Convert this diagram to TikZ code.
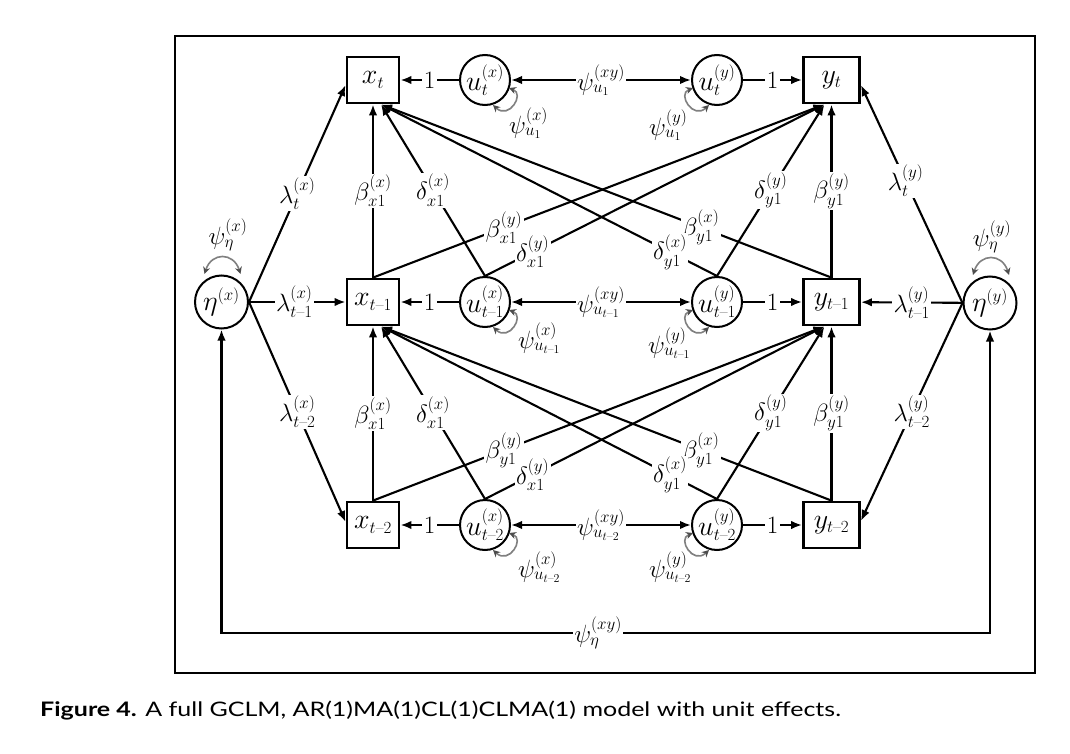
\RequirePackage{fix-cm}
\documentclass[tikz,border=0pt]{standalone}
\usepackage{amsmath}
\usepackage{fontspec}
\newfontfamily\capfont[FakeStretch=1.25]{Lato}
\usetikzlibrary{arrows.meta,calc}
\newcommand{\fsz}[1]{\fontsize{#1}{#1}\selectfont}
\DeclareMathSizes{25}{25}{17}{12}
\DeclareMathSizes{28}{28}{17}{12}
\newcommand{\tmo}{t\text{–}1}
\newcommand{\tmt}{t\text{–}2}
\begin{document}
\begin{tikzpicture}[x=1pt,y=-1pt,
  xbox/.style={draw, line width=2.8pt, minimum width=52pt, minimum height=46pt, inner sep=0pt, font=\fsz{28}},
  ybox/.style={xbox, minimum width=56pt},
  latc/.style={draw, circle, line width=2pt, minimum size=50pt, inner sep=-3pt, font=\fsz{28}},
  etac/.style={latc, minimum size=53pt},
  arr/.style={line width=2.1pt, -{Latex[length=11pt,width=8.5pt]}},
  darr/.style={line width=2.1pt, {Latex[length=11pt,width=8.5pt]}-{Latex[length=11pt,width=8.5pt]}},
  selfarc/.style={draw=gray, line width=1.6pt, {Stealth[length=7pt,width=7pt,color=black!70]}-{Stealth[length=7pt,width=7pt,color=black!70]}},
  elab/.style={fill=white, inner sep=1.5pt, font=\fsz{25}},
  plab/.style={inner sep=1pt, font=\fsz{25}}
]
\fill[white] (0,0) rectangle (1070,754);
\useasboundingbox (0,0) rectangle (1070,754);
\draw[line width=1.1pt] (175,36) rectangle (1035,673);

% nodes
\node[xbox] (xt) at (373,80) {$x_t$};
\node[latc] (uxt) at (485,80) {$u_t^{(x)}$};
\node[latc] (uyt) at (717,80) {$u_t^{(y)}$};
\node[ybox] (yt) at (831.5,80) {$y_t$};
\node[xbox] (xm) at (373,302) {$x_{\tmo}$};
\node[latc] (uxm) at (485,302) {$u_{\tmo}^{(x)}$};
\node[latc] (uym) at (717,302) {$u_{\tmo}^{(y)}$};
\node[ybox] (ym) at (831.5,302) {$y_{\tmo}$};
\node[xbox] (xb) at (373,525) {$x_{\tmt}$};
\node[latc] (uxb) at (485,525) {$u_{\tmt}^{(x)}$};
\node[latc] (uyb) at (717,525) {$u_{\tmt}^{(y)}$};
\node[ybox] (yb) at (831.5,525) {$y_{\tmt}$};
\node[etac] (etax) at (221.5,302) {$\eta^{(x)}$};
\node[etac] (etay) at (990,303) {$\eta^{(y)}$};
\coordinate (bly) at (0,633);

% horizontal row edges
\foreach \r in {t,m,b}{
  \draw[arr] (ux\r) -- coordinate (cone\r) (x\r);
  \draw[darr] (ux\r) -- coordinate (cxy\r) (uy\r);
  \draw[arr] (uy\r) -- coordinate (cony\r) (y\r);
}
% loadings
\draw[arr] (etax.east) -- coordinate[pos=0.5] (clxt) ($(xt.west)+(0,5)$);
\draw[arr] (etax) -- coordinate[pos=0.47] (clxm) (xm);
\draw[arr] (etax.east) -- coordinate[pos=0.5] (clxb) ($(xb.west)+(0,-3)$);
\draw[arr] (etay.west) -- coordinate[pos=0.56] (clyt) ($(yt.east)+(0,5)$);
\draw[arr] (etay) -- coordinate[pos=0.5] (clym) (ym);
\draw[arr] (etay.west) -- coordinate[pos=0.5] (clyb) ($(yb.east)+(0,-4)$);

% cross-lagged edges
\foreach \lo/\up in {m/t,b/m}{
  \draw[arr] (x\lo.north) -- coordinate[pos=0.5] (bxx\up) (x\up.south);
  \draw[arr] (ux\lo.north) -- coordinate[pos=0.5] (dxx\up) ($(x\up.south)+(8,0)$);
  \draw[arr] (x\lo.north) -- coordinate[pos=0.29] (bxy\up) ($(y\up.south)+(-7,0)$);
  \draw[arr] (ux\lo.north) -- coordinate[pos=0.14] (dxy\up) ($(y\up.south)+(-7,0)$);
  \draw[arr] (y\lo.north) -- coordinate[pos=0.5] (byy\up) (y\up.south);
  \draw[arr] (uy\lo.north) -- coordinate[pos=0.5] (dyy\up) ($(y\up.south)+(-7,0)$);
  \draw[arr] (y\lo.north) -- coordinate[pos=0.29] (byx\up) ($(x\up.south)+(8,0)$);
  \draw[arr] (uy\lo.north) -- coordinate[pos=0.14] (dyx\up) ($(x\up.south)+(8,0)$);
}

% unit effect covariance
\draw[darr] (etax.south) -- (etax.south |- bly) -- coordinate[pos=0.49] (cpe) (etay.south |- bly) -- (etay.south);

% self arcs
\foreach \r in {t,m,b}{
  \draw[selfarc] ($(ux\r)+(24,8)$) .. controls ($(ux\r)+(40,14)$) and ($(ux\r)+(24,40)$) .. ($(ux\r)+(8,25)$);
  \draw[selfarc] ($(uy\r)+(-24,8)$) .. controls ($(uy\r)+(-40,14)$) and ($(uy\r)+(-24,40)$) .. ($(uy\r)+(-8,25)$);
}
\draw[selfarc] ($(etax)+(-17,-28)$) .. controls ($(etax)+(-10,-50)$) and ($(etax)+(12,-50)$) .. ($(etax)+(19,-28)$);
\draw[selfarc] ($(etay)+(-17,-28)$) .. controls ($(etay)+(-10,-50)$) and ($(etay)+(12,-50)$) .. ($(etay)+(19,-28)$);

% labels
\foreach \r in {t,m,b}{
  \node[elab] (Lonex\r) at (cone\r) {1};
  \node[elab] (Loney\r) at (cony\r) {1};
}
\node[elab] (Lxyt) at (cxyt) {$\psi_{u_1}^{(xy)}$};
\node[elab] (Lxym) at (cxym) {$\psi_{u_{\tmo}}^{(xy)}$};
\node[elab] (Lxyb) at (cxyb) {$\psi_{u_{\tmt}}^{(xy)}$};
\node[elab] (Llxt) at (clxt) {$\lambda_t^{(x)}$};
\node[elab] (Llxm) at (clxm) {$\lambda_{\tmo}^{(x)}$};
\node[elab] (Llxb) at (clxb) {$\lambda_{\tmt}^{(x)}$};
\node[elab] (Llyt) at (clyt) {$\lambda_t^{(y)}$};
\node[elab] (Llym) at (clym) {$\lambda_{\tmo}^{(y)}$};
\node[elab] (Llyb) at (clyb) {$\lambda_{\tmt}^{(y)}$};
\node[elab] (Lbxxt) at (bxxt) {$\beta_{x1}^{(x)}$};
\node[elab] (Ldxxt) at (dxxt) {$\delta_{x1}^{(x)}$};
\node[elab] (Lbxyt) at (bxyt) {$\beta_{x1}^{(y)}$};
\node[elab] (Ldxyt) at (dxyt) {$\delta_{x1}^{(y)}$};
\node[elab] (Lbyyt) at (byyt) {$\beta_{y1}^{(y)}$};
\node[elab] (Ldyyt) at (dyyt) {$\delta_{y1}^{(y)}$};
\node[elab] (Lbyxt) at (byxt) {$\beta_{y1}^{(x)}$};
\node[elab] (Ldyxt) at (dyxt) {$\delta_{y1}^{(x)}$};
\node[elab] (Lbxxm) at (bxxm) {$\beta_{x1}^{(x)}$};
\node[elab] (Ldxxm) at (dxxm) {$\delta_{x1}^{(x)}$};
\node[elab] (Lbxym) at (bxym) {$\beta_{y1}^{(y)}$};
\node[elab] (Ldxym) at (dxym) {$\delta_{x1}^{(y)}$};
\node[elab] (Lbyym) at (byym) {$\beta_{y1}^{(y)}$};
\node[elab] (Ldyym) at (dyym) {$\delta_{y1}^{(y)}$};
\node[elab] (Lbyxm) at (byxm) {$\beta_{y1}^{(x)}$};
\node[elab] (Ldyxm) at (dyxm) {$\delta_{y1}^{(x)}$};
\node[elab] (Lpe) at (cpe) {$\psi_{\eta}^{(xy)}$};

\node[plab, anchor=west] (Lpxt) at (508,123) {$\psi_{u_1}^{(x)}$};
\node[plab, anchor=west] (Lpyt) at (648,125) {$\psi_{u_1}^{(y)}$};
\node[plab, anchor=west] (Lpxm) at (517,338) {$\psi_{u_{\tmo}}^{(x)}$};
\node[plab, anchor=west] (Lpym) at (647,343) {$\psi_{u_{\tmo}}^{(y)}$};
\node[plab, anchor=west] (Lpxb) at (517,567) {$\psi_{u_{\tmt}}^{(x)}$};
\node[plab, anchor=west] (Lpyb) at (648,567) {$\psi_{u_{\tmt}}^{(y)}$};
\node[plab] (Lpex) at (228,235) {$\psi_{\eta}^{(x)}$};
\node[plab] (Lpey) at (992,237) {$\psi_{\eta}^{(y)}$};

\node[anchor=base west, inner sep=0pt, font=\capfont\fsz{20}] (cap) at (40,716) {\textbf{Figure 4.} A full GCLM, AR(1)MA(1)CL(1)CLMA(1) model with unit effects.};
\end{tikzpicture}
\end{document}
